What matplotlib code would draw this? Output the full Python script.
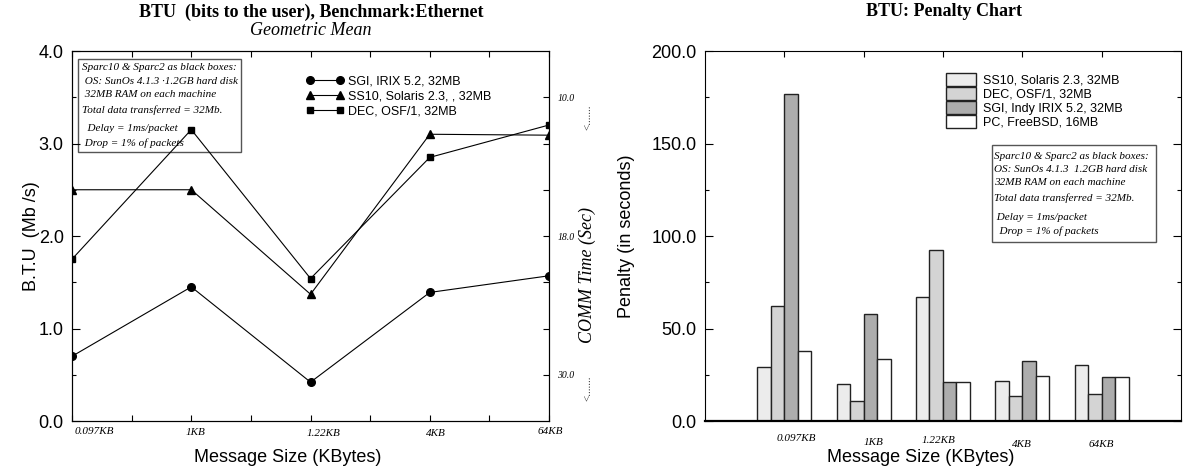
import numpy as np
import matplotlib
matplotlib.use('Agg')
import matplotlib.pyplot as plt
from matplotlib.patches import Rectangle
from matplotlib.transforms import ScaledTranslation

plt.rcParams['font.family'] = ['Liberation Sans', 'DejaVu Sans']
SERIF = ['Liberation Serif', 'DejaVu Serif']

# --- data ---
sizes = ['0.097KB', '1KB', '1.22KB', '4KB', '64KB']

# left chart: B.T.U (Mb/s)
btu_sgi = [0.70, 1.45, 0.42, 1.39, 1.57]
btu_ss10 = [2.50, 2.50, 1.37, 3.10, 3.09]
btu_dec = [1.75, 3.15, 1.54, 2.85, 3.20]
btu_names = ['SGI, IRIX 5.2, 32MB', 'SS10, Solaris 2.3, , 32MB', 'DEC, OSF/1, 32MB']

comm_ticks = [0.5, 1.0, 1.5, 2.0, 2.5, 3.0, 3.5]
comm_labels = ['30.0', '', '', '18.0', '', '', '10.0']

# right chart: penalty (seconds)
pen_ss10 = [29.3, 20.0, 67.1, 21.8, 30.2]
pen_dec = [62.2, 11.0, 92.6, 13.3, 14.4]
pen_sgi = [176.5, 58.1, 21.2, 32.2, 23.6]
pen_pc = [37.8, 33.6, 21.2, 24.3, 23.6]
pen_names = ['SS10, Solaris 2.3, 32MB', 'DEC, OSF/1, 32MB',
             'SGI, Indy IRIX 5.2, 32MB', 'PC, FreeBSD, 16MB']
pen_colors = ['#ececec', '#d4d4d4', '#adadad', 'white']

note_left = ['Sparc10 & Sparc2 as black boxes:',
             ' OS: SunOs 4.1.3 \u00b71.2GB hard disk',
             ' 32MB RAM on each machine',
             'Total data transferred = 32Mb.',
             '  Delay = 1ms/packet',
             ' Drop = 1% of packets']
note_right = ['Sparc10 & Sparc2 as black boxes:',
              'OS: SunOs 4.1.3  1.2GB hard disk',
              '32MB RAM on each machine',
              'Total data transferred = 32Mb.',
              ' Delay = 1ms/packet',
              '  Drop = 1% of packets']


def shift_labels(fig, labels, dx_px, dy_px):
    # move each tick label a little, like the original
    for lab, dx, dy in zip(labels, dx_px, dy_px):
        off = ScaledTranslation(dx / fig.dpi, dy / fig.dpi, fig.dpi_scale_trans)
        lab.set_transform(lab.get_transform() + off)


def note_box(ax, lines, x0, x1, y0, y1, ys, xt):
    # box sits under the plotted lines
    ax.add_patch(Rectangle((x0, y0), x1 - x0, y1 - y0, transform=ax.transAxes,
                           facecolor='white', edgecolor='#555555', lw=1, zorder=0.5))
    for line, y in zip(lines, ys):
        ax.text(xt, y, line, transform=ax.transAxes, ha='left', va='center',
                family=SERIF, style='italic', fontsize=8, zorder=1)


fig = plt.figure(figsize=(11.83, 4.74), dpi=100)
ax1 = fig.add_axes([0.0609, 0.1118, 0.4032, 0.7806])
ax2 = fig.add_axes([0.5959, 0.1118, 0.4024, 0.7806])

# ---------------- left: BTU line chart ----------------
x = np.arange(len(sizes))
ax1.plot(x, btu_sgi, color='k', lw=0.8, marker='o', ms=5.5, label=btu_names[0], zorder=3)
ax1.plot(x, btu_ss10, color='k', lw=0.8, marker='^', ms=6, label=btu_names[1], zorder=3)
ax1.plot(x, btu_dec, color='k', lw=0.8, marker='s', ms=5, label=btu_names[2], zorder=3)
ax1.set_xlim(0, 4)
ax1.set_ylim(0, 4)

ax1.set_xticks(x)
ax1.set_xticklabels(sizes, family=SERIF, style='italic', fontsize=8)
ax1.set_xticks(x[:-1] + 0.5, minor=True)
ax1.set_yticks(np.arange(0, 4.1, 1.0))
ax1.set_yticklabels(['%.1f' % v for v in np.arange(0, 4.1, 1.0)], fontsize=13)
ax1.set_yticks(np.arange(0.5, 4, 1.0), minor=True)
ax1.tick_params(which='both', direction='in', top=True, right=False, width=0.8)
ax1.tick_params(axis='y', which='major', length=6, pad=6)
ax1.tick_params(axis='y', which='minor', length=3)
ax1.tick_params(axis='x', which='both', length=4, pad=4)
shift_labels(fig, ax1.get_xticklabels(), [22, 4, 13, 6, 1], [0, -1, -2, -2, 0])

ax1.set_ylabel('B.T.U  (Mb /s)', fontsize=13)
ax1.yaxis.set_label_coords(-0.068, 0.5)
ax1.set_xlabel('Message Size (KBytes)', fontsize=13)
ax1.xaxis.set_label_coords(0.452, -0.075)

ax1r = ax1.twinx()
ax1r.set_ylim(0, 4)
ax1r.set_yticks(comm_ticks)
ax1r.set_yticklabels(comm_labels, family=SERIF, style='italic', fontsize=7)
ax1r.tick_params(direction='in', length=4, pad=6, width=0.8)
ax1.text(1.08, 0.395, 'COMM Time (Sec)', transform=ax1.transAxes, rotation=90,
         ha='center', va='center', family=SERIF, style='italic', fontsize=13)
for yy in (0.822, 0.089):
    ax1.text(1.082, yy, '<.......', transform=ax1.transAxes, rotation=90,
             ha='center', va='center', family=SERIF, fontsize=8, color='#333333')

ax1.legend(loc='upper left', bbox_to_anchor=(0.4906, 0.935), numpoints=2,
           frameon=False, fontsize=9, handlelength=3.0, handletextpad=0.35,
           labelspacing=0.25, borderpad=0, borderaxespad=0)

note_box(ax1, note_left, 0.0128, 0.354, 0.728, 0.979,
         [0.955, 0.9175, 0.8825, 0.84, 0.79, 0.75], 0.02)

fig.text(0.263, 0.975, 'BTU  (bits to the user), Benchmark:Ethernet', ha='center',
         va='center', family=SERIF, weight='bold', fontsize=13)
fig.text(0.263, 0.935, 'Geometric Mean', ha='center', va='center',
         family=SERIF, style='italic', fontsize=13)

# ---------------- right: penalty bar chart ----------------
g = np.arange(1, len(sizes) + 1)
w = 0.17
for i, (vals, col, name) in enumerate(zip([pen_ss10, pen_dec, pen_sgi, pen_pc],
                                          pen_colors, pen_names)):
    ax2.bar(g + (i - 1.5) * w, vals, w, color=col, edgecolor='#222222', lw=1, label=name)
ax2.set_xlim(0, 6)
ax2.set_ylim(0, 200)
ax2.set_xticks(g)
ax2.set_xticklabels(sizes, family=SERIF, style='italic', fontsize=8)
ax2.set_yticks(np.arange(0, 201, 50))
ax2.set_yticklabels(['%.1f' % v for v in np.arange(0, 201, 50)], fontsize=13)
ax2.set_yticks(np.arange(25, 200, 50), minor=True)
ax2.tick_params(axis='y', which='both', direction='in', right=True, width=0.8)
ax2.tick_params(axis='y', which='major', length=6, pad=6)
ax2.tick_params(axis='y', which='minor', length=3)
ax2.tick_params(axis='x', which='major', direction='in', bottom=False, top=True,
                length=4, pad=9)
ax2.spines['bottom'].set_linewidth(1.6)
shift_labels(fig, ax2.get_xticklabels(), [12, 10, -4.5, 0, 0], [0, -4, -2.3, -6, -6])

ax2.set_ylabel('Penalty (in seconds)', fontsize=13)
ax2.yaxis.set_label_coords(-0.147, 0.5)
ax2.set_xlabel('Message Size (KBytes)', fontsize=13)
ax2.xaxis.set_label_coords(0.453, -0.075)

ax2.legend(loc='upper left', bbox_to_anchor=(0.506, 0.941), frameon=False,
           fontsize=9, handlelength=2.4, handleheight=1.3, labelspacing=0,
           handletextpad=0.6, borderpad=0, borderaxespad=0)

note_box(ax2, note_right, 0.603, 0.9485, 0.483, 0.745,
         [0.716, 0.680, 0.645, 0.601, 0.550, 0.514], 0.608)

fig.text(0.798, 0.975, 'BTU: Penalty Chart', ha='center', va='center',
         family=SERIF, weight='bold', fontsize=13)

fig.savefig('out.png', dpi=100)
